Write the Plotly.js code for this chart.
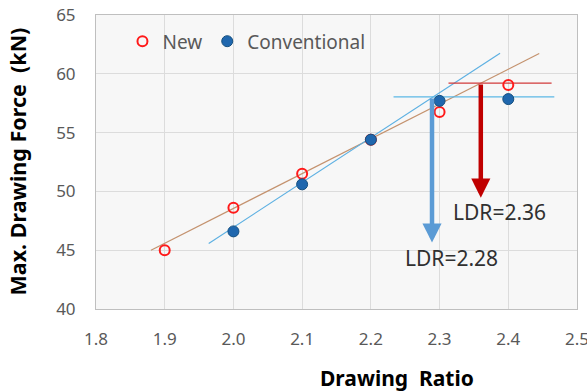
<!DOCTYPE html>
<html>
<head>
<meta charset="utf-8">
<script src="https://cdn.plot.ly/plotly-3.0.1.min.js"></script>
<style>html,body{margin:0;padding:0;background:#fff;}#chart{width:587px;height:392px;}</style>
</head>
<body>
<div id="chart"></div>
<script>
// ---- data ----
const drawingRatio = [1.9, 2.0, 2.1, 2.2, 2.3, 2.4];
const newForce = [45.0, 48.6, 51.5, 54.4, 56.75, 59.05];
const convRatio = [2.0, 2.1, 2.2, 2.3, 2.4];
const convForce = [46.6, 50.6, 54.4, 57.7, 57.85];

// trend lines (end points)
const newTrendX = [1.880, 2.445];
const newTrendY = [45.0, 61.72];
const convTrendX = [1.964, 2.388];
const convTrendY = [45.57, 61.75];

// horizontal reference lines
const convLevelX = [2.233, 2.467];
const convLevelY = [58.03, 58.03];
const newLevelX = [2.313, 2.463];
const newLevelY = [59.21, 59.21];

// LDR arrows and labels
const ldrLabels = ['LDR=2.28', 'LDR=2.36'];
const ldrArrowX = [2.289, 2.360];
const ldrArrowTop = [58.03, 59.21];
const ldrArrowTip = [45.65, 49.47];
const ldrLabelX = [2.318, 2.387];
const ldrLabelY = [44.35, 48.25];
const ldrColors = ['#5B9BD5', '#C00000'];

const xTicks = [1.8, 1.9, 2.0, 2.1, 2.2, 2.3, 2.4, 2.5];
const yTicks = [40, 45, 50, 55, 60, 65];
const xTitle = 'Drawing  Ratio';
const yTitle = 'Max. Drawing Force  (kN)';

const FONT = 'Noto Sans, Open Sans, sans-serif';

const traces = [
  {x: newTrendX, y: newTrendY, mode: 'lines', line: {color: '#C4926E', width: 1.2}, showlegend: false, hoverinfo: 'skip'},
  {x: convTrendX, y: convTrendY, mode: 'lines', line: {color: '#5DB0E2', width: 1.2}, showlegend: false, hoverinfo: 'skip'},
  {x: convLevelX, y: convLevelY, mode: 'lines', line: {color: '#5DB8E6', width: 1.2}, showlegend: false, hoverinfo: 'skip'},
  {x: newLevelX, y: newLevelY, mode: 'lines', line: {color: '#D23A3A', width: 1.2}, showlegend: false, hoverinfo: 'skip'},
  {x: drawingRatio, y: newForce, name: 'New', mode: 'markers',
   marker: {symbol: 'circle-open', size: 10, color: '#FF1A1A', line: {width: 2, color: '#FF1A1A'}}},
  {x: convRatio, y: convForce, name: 'Conventional', mode: 'markers',
   marker: {symbol: 'circle', size: 11, color: '#1F67AE', line: {width: 1, color: '#16507F'}}}
];

const annotations = [];
for (let i = 0; i < ldrLabels.length; i++) {
  annotations.push({
    x: ldrArrowX[i], y: ldrArrowTip[i], xref: 'x', yref: 'y',
    ax: ldrArrowX[i], ay: ldrArrowTop[i], axref: 'x', ayref: 'y',
    showarrow: true, arrowhead: 2, arrowsize: 0.85, arrowwidth: 4.5,
    arrowcolor: ldrColors[i], text: ''
  });
  annotations.push({
    x: ldrLabelX[i], y: ldrLabelY[i], xref: 'x', yref: 'y',
    text: ldrLabels[i], showarrow: false,
    font: {family: FONT, size: 21, color: '#303030'}
  });
}
// axis titles placed as paper annotations to match the reference offsets
annotations.push({
  xref: 'paper', yref: 'paper', x: (397 - 96) / 481, y: -(378 - 309) / 294,
  xanchor: 'center', yanchor: 'middle', showarrow: false, text: '<b>' + xTitle + '</b>',
  font: {family: FONT, size: 21, color: '#000000'}
});
annotations.push({
  xref: 'paper', yref: 'paper', x: -(96 - 17) / 481, y: (309 - 161.5) / 294,
  xanchor: 'center', yanchor: 'middle', showarrow: false, textangle: -90, text: '<b>' + yTitle + '</b>',
  font: {family: FONT, size: 21.5, color: '#000000'}
});

const layout = {
  width: 587, height: 392,
  margin: {l: 96, r: 10, t: 15, b: 83},
  paper_bgcolor: '#FFFFFF',
  plot_bgcolor: '#F7F7F7',
  font: {family: FONT, color: '#595959', size: 16},
  showlegend: true,
  legend: {orientation: 'h', x: 0.055, y: 0.975, xanchor: 'left', yanchor: 'top',
           bgcolor: 'rgba(0,0,0,0)', font: {family: FONT, size: 19, color: '#595959'},
           itemwidth: 30, tracegroupgap: 0},
  xaxis: {
    range: [1.8, 2.5], tickvals: xTicks, ticktext: xTicks.map(v => v.toFixed(1)),
    showgrid: true, gridcolor: '#DCDCDC', gridwidth: 1, zeroline: false,
    showline: true, linecolor: '#BFBFBF', linewidth: 1, mirror: true,
    ticks: '', ticklabelstandoff: 15, ticklabeloverflow: 'allow',
    tickfont: {family: FONT, size: 17, color: '#595959'}
  },
  yaxis: {
    range: [40, 65], tickvals: yTicks,
    showgrid: true, gridcolor: '#DCDCDC', gridwidth: 1, zeroline: false,
    showline: true, linecolor: '#BFBFBF', linewidth: 1, mirror: true,
    ticks: '', ticklabelstandoff: 16,
    tickfont: {family: FONT, size: 17, color: '#595959'}
  },
  annotations: annotations
};

Plotly.newPlot('chart', traces, layout, {displayModeBar: false, staticPlot: true});
</script>
</body>
</html>
